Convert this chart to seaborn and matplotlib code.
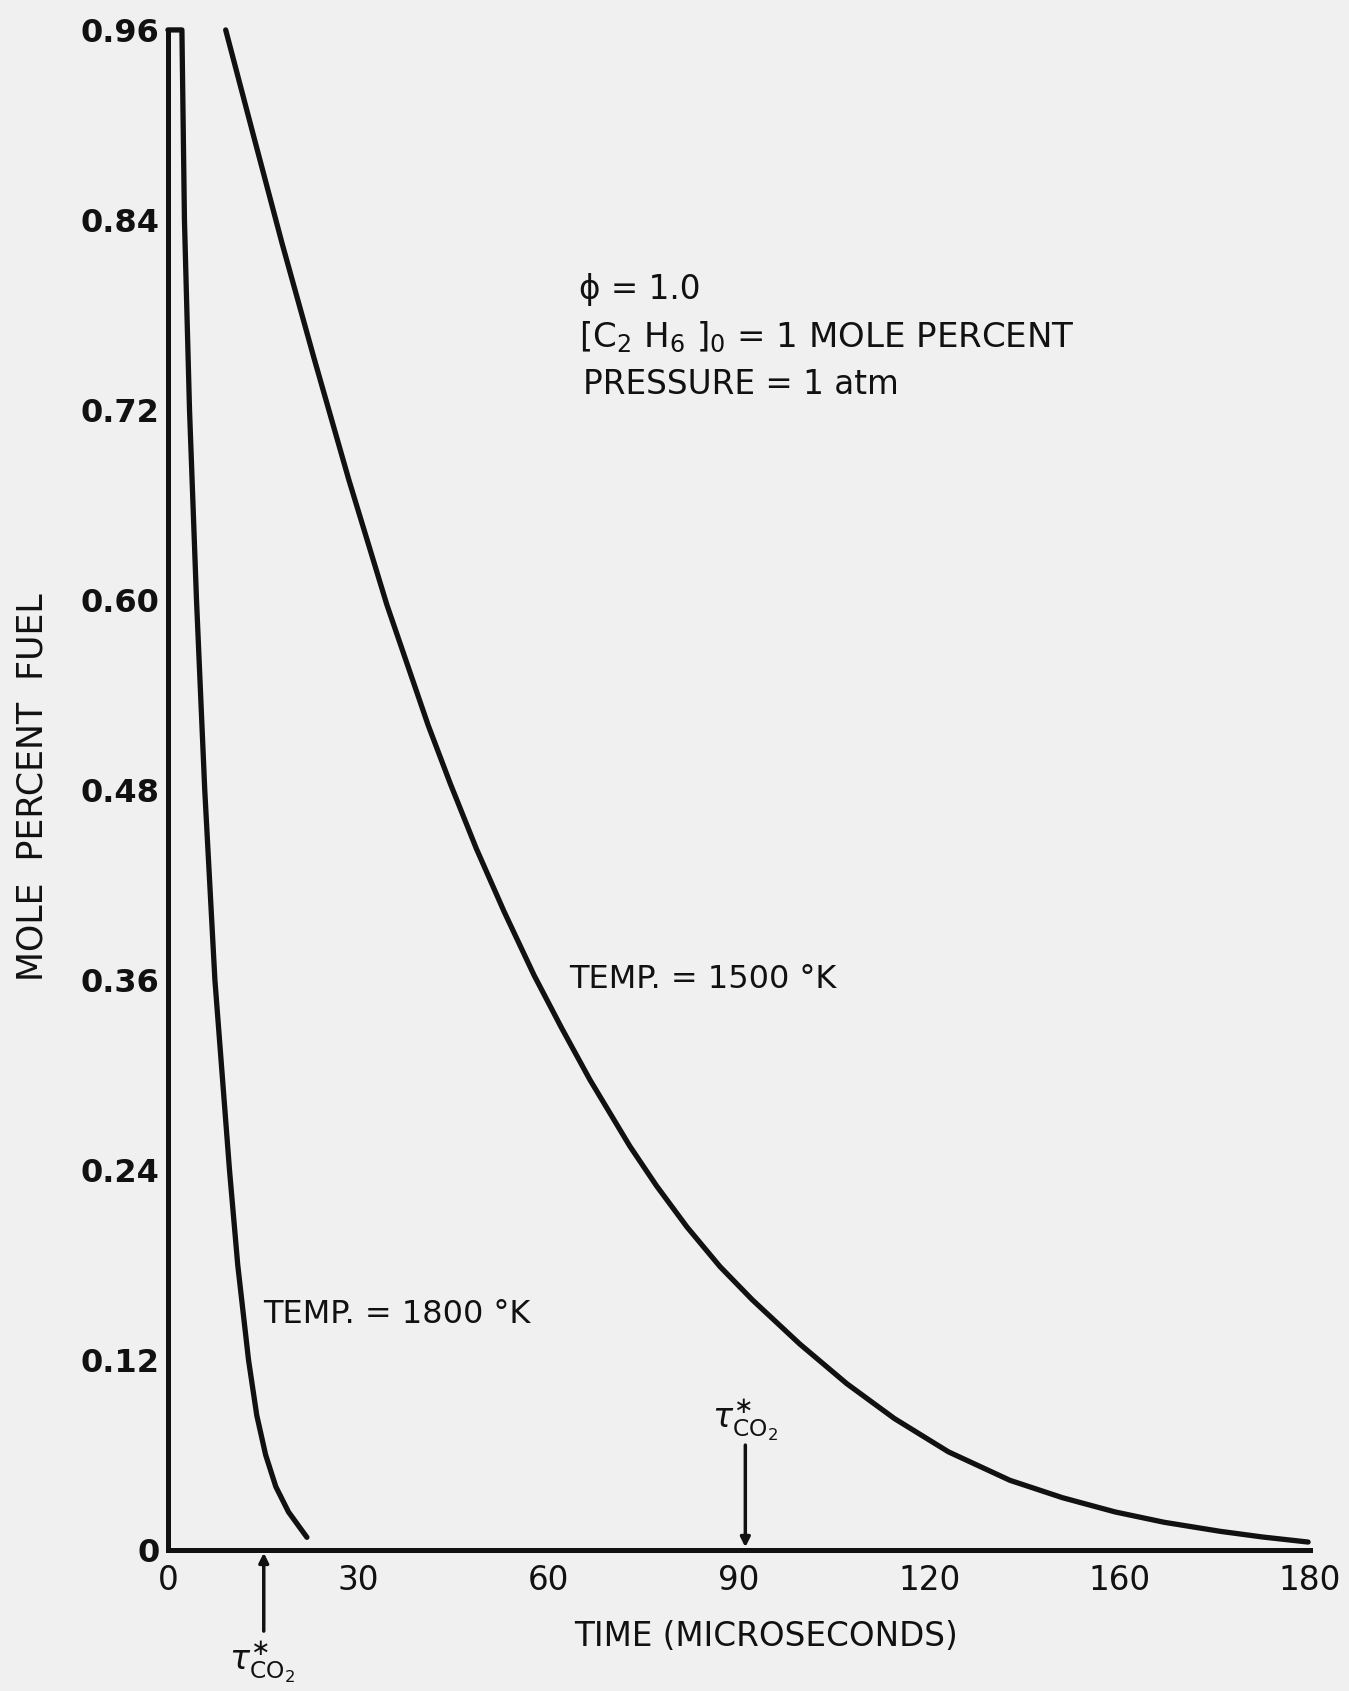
"""
Mole percent fuel vs. time for ethane at two temperatures (scanned figure).
"""
import matplotlib
matplotlib.use('Agg')
import matplotlib.pyplot as plt
import seaborn as sns
import pandas as pd

# --- data ---
t_1800 = [0, 2.2, 2.6, 3.4, 4.5, 5.8, 7.4, 9.7, 11.0, 12.7, 14.0, 15.4,
          17.0, 19.0, 21.9]
y_1800 = [0.96, 0.96, 0.84, 0.72, 0.60, 0.48, 0.36, 0.24, 0.18, 0.12, 0.085,
          0.060, 0.040, 0.024, 0.008]

t_1500 = [9.1, 13.5, 18.0, 23.0, 28.5, 34.5, 41.0, 44.5, 48.6, 53.0, 57.7,
          62.0, 66.5, 72.8, 77.0, 81.8, 87.0, 92.1, 99.6, 107.0, 114.5, 123.0,
          132.7, 141.0, 149.3, 157.0, 165.8, 172.5, 179.7]
y_1500 = [0.960, 0.893, 0.825, 0.753, 0.676, 0.597, 0.521, 0.484, 0.443, 0.403,
          0.363, 0.330, 0.297, 0.255, 0.230, 0.204, 0.179, 0.158, 0.130, 0.105,
          0.083, 0.062, 0.044, 0.033, 0.024, 0.0175, 0.0118, 0.0082, 0.005]

x_ticks = [0, 30, 60, 90, 120, 150, 180]
x_ticklabels = ['0', '30', '60', '90', '120', '160', '180']
y_ticks = [0, 0.12, 0.24, 0.36, 0.48, 0.60, 0.72, 0.84, 0.96]
y_ticklabels = ['0', '0.12', '0.24', '0.36', '0.48', '0.60', '0.72', '0.84', '0.96']

tau_times = [15.1, 91.0]

df = pd.concat([
    pd.DataFrame({'time': t_1800, 'fuel': y_1800, 'temp': '1800'}),
    pd.DataFrame({'time': t_1500, 'fuel': y_1500, 'temp': '1500'}),
])

sns.set_style('white')
plt.rcParams['font.family'] = ['DejaVu Sans']
plt.rcParams['mathtext.fontset'] = 'dejavusans'
bg = '#f0f0f0'
ink = '#111111'

fig = plt.figure(figsize=(13.49, 16.91), dpi=100, facecolor=bg)
ax = fig.add_axes([0.1245, 0.0834, 0.8466, 0.8989])
ax.set_facecolor(bg)

sns.lineplot(data=df, x='time', y='fuel', units='temp', estimator=None,
             color=ink, lw=3.8, ax=ax, legend=False)
for ln in ax.lines:
    ln.set_clip_on(False)
    ln.set_solid_capstyle('round')
    ln.set_solid_joinstyle('round')

ax.set_xlim(0, 180)
ax.set_ylim(0, 0.96)
sns.despine(ax=ax)
for s in ['left', 'bottom']:
    ax.spines[s].set_linewidth(3.6)
    ax.spines[s].set_color(ink)

ax.set_xticks(x_ticks)
ax.set_xticklabels(x_ticklabels)
ax.set_yticks(y_ticks)
ax.set_yticklabels(y_ticklabels, fontweight='bold')
ax.tick_params(axis='x', direction='in', length=18, width=2.5, color=ink,
               labelsize=23.5, pad=10, labelcolor=ink)
ax.tick_params(axis='y', direction='in', length=8, width=2.5, color=ink,
               labelsize=23, pad=6, labelcolor=ink)

ax.set_xlabel('TIME (MICROSECONDS)', fontsize=23.5, color=ink, va='center')
ax.xaxis.set_label_coords(0.524, -0.057)
ax.set_ylabel('MOLE  PERCENT  FUEL', fontsize=25, color=ink, va='center')
ax.yaxis.set_label_coords(-0.119, 0.502)

# conditions block
ax.text(64.8, 0.796, 'ϕ = 1.0', fontsize=23.5, color=ink, va='center')
ax.text(64.8, 0.766, r'[C$_2$ H$_6$ ]$_0$ = 1 MOLE PERCENT', fontsize=24.5,
        color=ink, va='center')
ax.text(65.4, 0.736, 'PRESSURE = 1 atm', fontsize=23.5, color=ink, va='center')

ax.text(63.2, 0.360, 'TEMP. = 1500 °K', fontsize=23, color=ink, va='center')
ax.text(15.0, 0.149, 'TEMP. = 1800 °K', fontsize=23, color=ink, va='center')

# tau_CO2* markers
ax.annotate('', xy=(tau_times[0], 0), xytext=(tau_times[0], -0.053),
            arrowprops=dict(arrowstyle='-|>', color=ink, lw=2.5,
                            mutation_scale=14),
            annotation_clip=False)
ax.text(tau_times[0] - 0.3, -0.071, r'$\tau_{\rm CO_2}^{\ast}$', fontsize=24,
        color=ink, ha='center', va='center', clip_on=False)

ax.annotate('', xy=(tau_times[1], 0), xytext=(tau_times[1], 0.068),
            arrowprops=dict(arrowstyle='-|>', color=ink, lw=2.5,
                            mutation_scale=14),
            annotation_clip=False)
ax.text(tau_times[1], 0.082, r'$\tau_{\rm CO_2}^{\ast}$', fontsize=24,
        color=ink, ha='center', va='center')

plt.savefig('out.png', dpi=100, facecolor=bg)
plt.close()
print("Saved: out.png")
